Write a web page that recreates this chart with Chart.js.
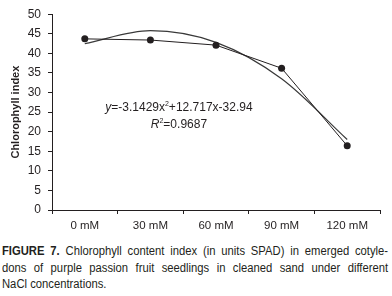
<!DOCTYPE html>
<html>
<head>
<meta charset="utf-8">
<script src="https://cdn.jsdelivr.net/npm/chart.js@4"></script>
<style>
    html, body { margin: 0; padding: 0; background: #fff; }
    body { width: 392px; height: 296px; overflow: hidden; font-family: 'Liberation Sans', Arial, sans-serif; color: #231f20; }
    .wrap { position: relative; width: 392px; height: 236px; }
    .cap { position: absolute; left: 2px; top: 243px; width: 429px; font-size: 12.5px; line-height: 16.5px; transform: scaleX(0.9); transform-origin: 0 0; }
    .cap div { text-align: justify; text-align-last: justify; white-space: nowrap; }
    .cap div.last { text-align-last: left; }
    .cap b { font-weight: bold; }
</style>
</head>
<body>
<div class="wrap"><canvas id="c"></canvas></div>
<div class="cap">
    <div><b>FIGURE 7.</b> Chlorophyll content index (in units SPAD) in emerged cotyle-</div>
    <div>dons of purple passion fruit seedlings in cleaned sand under different</div>
    <div class="last">NaCl concentrations.</div>
</div>
<script>
const FONT = "'Liberation Sans', Arial, sans-serif";
const labels = ['0 mM', '30 mM', '60 mM', '90 mM', '120 mM'];
const chlorophyll = [43.7, 43.4, 42.1, 36.2, 16.4];
// trendline at each concentration
const trend = [42.5, 45.8, 42.8, 33.5, 18.0];
const yTicks = [0, 50, 5];
const eqLine1 = ['y', '=-3.1429x', '2', '+12.717x-32.94'];
const eqLine2 = ['R', '2', '=0.9687'];

// equation label drawn over the plot
const eqPlugin = {
    id: 'eq',
    afterDatasetsDraw(chart) {
        const { ctx, chartArea: a } = chart;
        ctx.save();
        ctx.fillStyle = '#231f20';
        ctx.textBaseline = 'middle';
        const parts1 = [[eqLine1[0], 'italic'], [eqLine1[1], ''], [eqLine1[2], 'sup'], [eqLine1[3], '']];
        const parts2 = [[eqLine2[0], 'italic'], [eqLine2[1], 'sup'], [eqLine2[2], '']];
        const drawLine = (parts, cx, y) => {
            const fontOf = (k) => (k === 'italic' ? 'italic ' : '') + (k === 'sup' ? '7px ' : '12px ') + FONT;
            let w = 0;
            parts.forEach(([t, k]) => { ctx.font = fontOf(k); w += ctx.measureText(t).width; });
            let x = cx - w / 2;
            parts.forEach(([t, k]) => {
                ctx.font = fontOf(k);
                ctx.fillText(t, x, k === 'sup' ? y - 3.5 : y);
                x += ctx.measureText(t).width;
            });
        };
        const cx = a.left + (a.right - a.left) * 0.387;
        drawLine(parts1, cx, a.top + 93);
        drawLine(parts2, cx, a.top + 110);
        ctx.restore();
    }
};

new Chart(document.getElementById('c'), {
    type: 'line',
    data: {
        labels,
        datasets: [
            { data: chlorophyll, borderColor: '#231f20', borderWidth: 1, pointRadius: 3.5, pointBackgroundColor: '#231f20', pointBorderWidth: 0, tension: 0 },
            { data: trend, borderColor: '#3a3a3a', borderWidth: 1.2, pointRadius: 0, cubicInterpolationMode: 'monotone' },
        ],
    },
    options: {
        responsive: true,
        maintainAspectRatio: false,
        animation: false,
        layout: { padding: { top: 2, right: 12, left: 0, bottom: 0 } },
        plugins: { legend: { display: false }, tooltip: { enabled: false } },
        scales: {
            x: {
                offset: true,
                grid: { offset: true, drawOnChartArea: false, tickLength: 4, color: '#231f20' },
                border: { color: '#231f20', width: 1 },
                ticks: { color: '#231f20', font: { family: FONT, size: 11.5 }, padding: 5, maxRotation: 0 },
                afterFit: (s) => { s.height = 26; },
            },
            y: {
                min: yTicks[0], max: yTicks[1],
                grid: { drawOnChartArea: false, tickLength: 4, color: '#231f20' },
                border: { color: '#231f20', width: 1 },
                ticks: { stepSize: yTicks[2], color: '#231f20', font: { family: FONT, size: 12 }, padding: 7 },
                title: { display: true, text: 'Chlorophyll index', color: '#231f20', font: { family: FONT, size: 11, weight: 'bold' }, padding: { top: 9, bottom: 0 } },
                afterFit: (s) => { s.width = 52; },
            },
        },
    },
    plugins: [eqPlugin],
});
</script>
</body>
</html>
